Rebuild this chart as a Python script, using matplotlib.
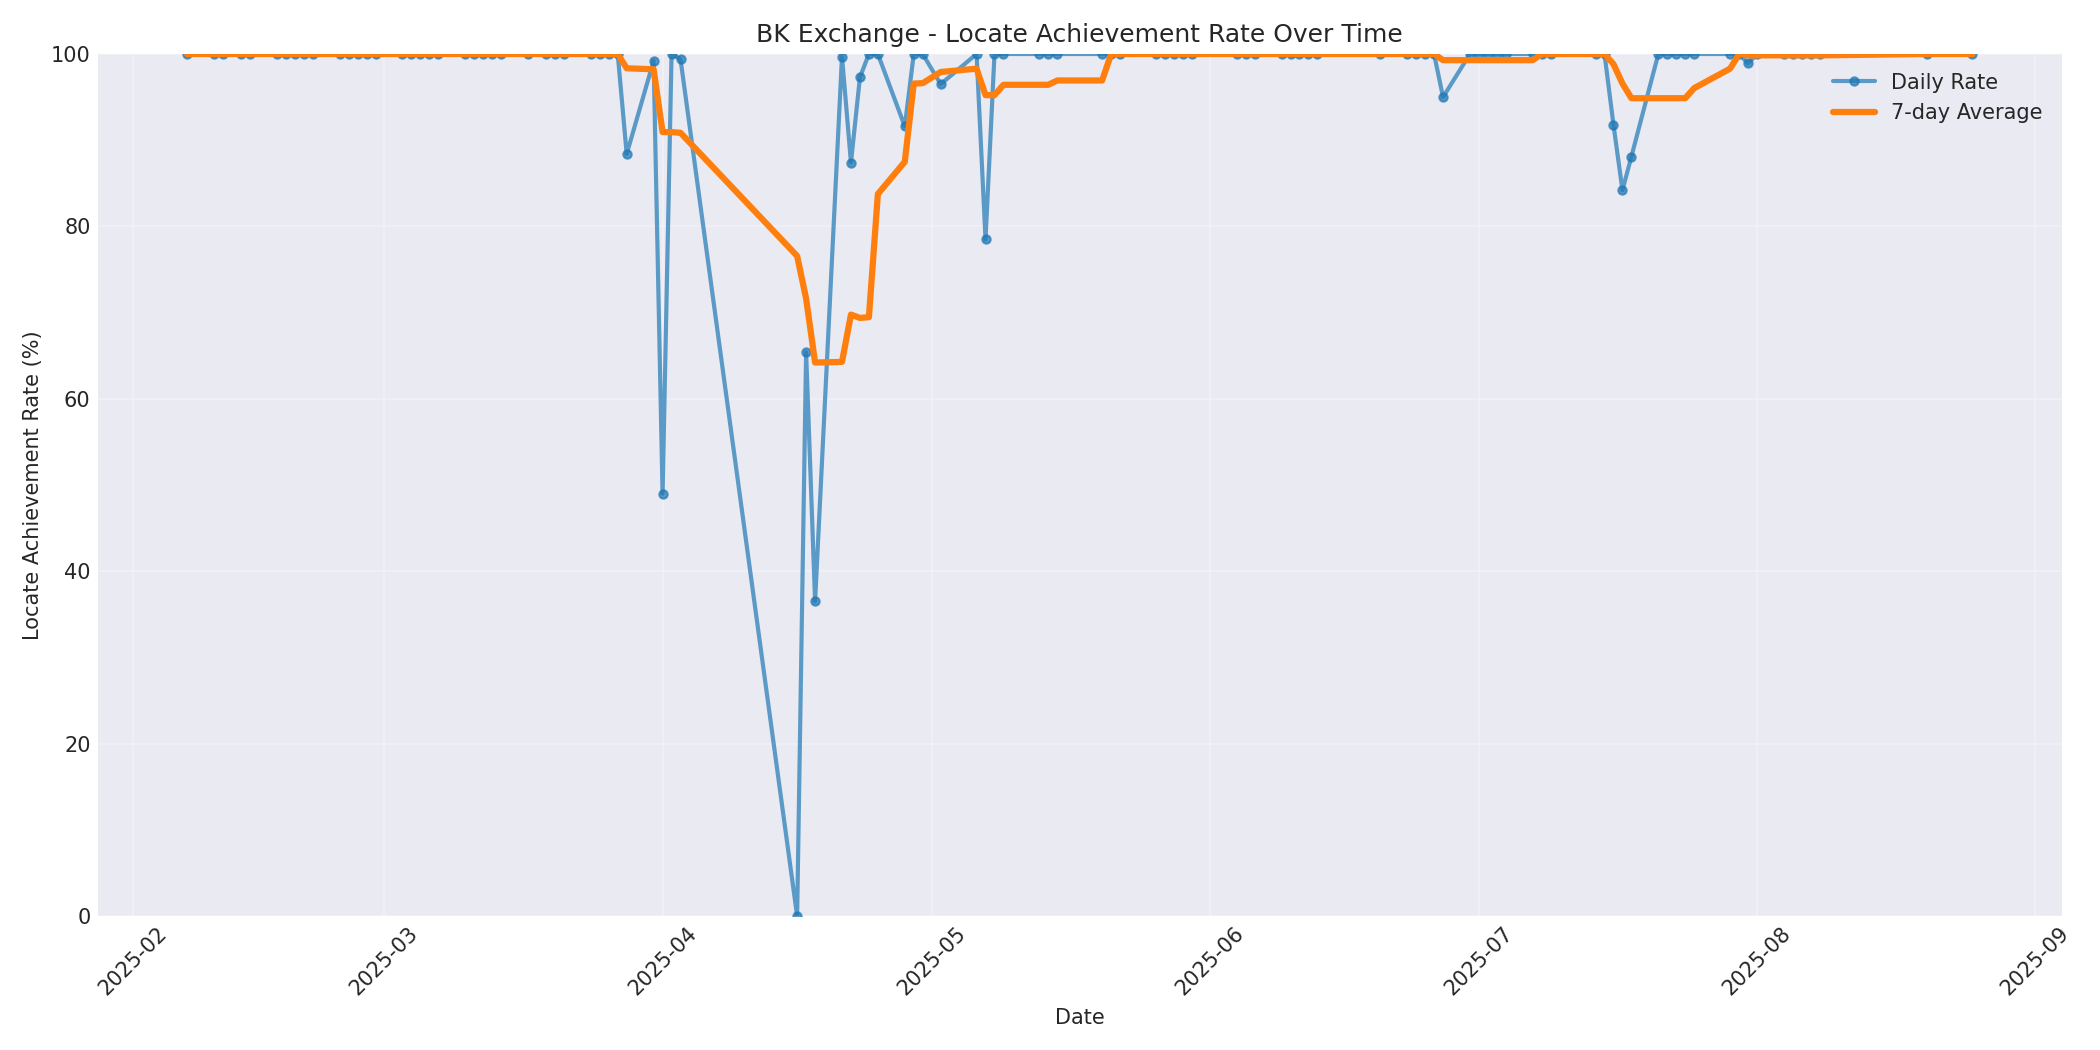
import matplotlib
matplotlib.use("Agg")
import matplotlib.pyplot as plt
import matplotlib.dates as mdates
import pandas as pd

dates = [
    "2025-02-07", "2025-02-10", "2025-02-11", "2025-02-13", "2025-02-14",
    "2025-02-17", "2025-02-18", "2025-02-19", "2025-02-20", "2025-02-21",
    "2025-02-24", "2025-02-25", "2025-02-26", "2025-02-27", "2025-02-28",
    "2025-03-03", "2025-03-04", "2025-03-05", "2025-03-06", "2025-03-07",
    "2025-03-10", "2025-03-11", "2025-03-12", "2025-03-13", "2025-03-14",
    "2025-03-17", "2025-03-19", "2025-03-20", "2025-03-21",
    "2025-03-24", "2025-03-25", "2025-03-26", "2025-03-27", "2025-03-28",
    "2025-03-31", "2025-04-01", "2025-04-02", "2025-04-03",
    "2025-04-16", "2025-04-17", "2025-04-18",
    "2025-04-21", "2025-04-22", "2025-04-23", "2025-04-24", "2025-04-25",
    "2025-04-28", "2025-04-29", "2025-04-30", "2025-05-02",
    "2025-05-06", "2025-05-07", "2025-05-08", "2025-05-09",
    "2025-05-13", "2025-05-14", "2025-05-15",
    "2025-05-20", "2025-05-21", "2025-05-22",
    "2025-05-26", "2025-05-27", "2025-05-28", "2025-05-29", "2025-05-30",
    "2025-06-04", "2025-06-05", "2025-06-06",
    "2025-06-09", "2025-06-10", "2025-06-11", "2025-06-12", "2025-06-13",
    "2025-06-20",
    "2025-06-23", "2025-06-24", "2025-06-25", "2025-06-26", "2025-06-27",
    "2025-06-30", "2025-07-01", "2025-07-02", "2025-07-03", "2025-07-04",
    "2025-07-07", "2025-07-08", "2025-07-09",
    "2025-07-14", "2025-07-15", "2025-07-16", "2025-07-17", "2025-07-18",
    "2025-07-21", "2025-07-22", "2025-07-23", "2025-07-24", "2025-07-25",
    "2025-07-29", "2025-07-30", "2025-07-31", "2025-08-01",
    "2025-08-04", "2025-08-05", "2025-08-06", "2025-08-07", "2025-08-08",
    "2025-08-20", "2025-08-25",
]

daily_rate = [
    100, 100, 100, 100, 100,
    100, 100, 100, 100, 100,
    100, 100, 100, 100, 100,
    100, 100, 100, 100, 100,
    100, 100, 100, 100, 100,
    100, 100, 100, 100,
    100, 100, 100, 100, 88.4,
    99.2, 49.0, 100, 99.4,
    0.0, 65.4, 36.5,
    99.7, 87.4, 97.3, 100, 100,
    91.6, 100, 100, 96.5,
    100, 78.5, 100, 100,
    100, 100, 100,
    100, 100, 100,
    100, 100, 100, 100, 100,
    100, 100, 100,
    100, 100, 100, 100, 100,
    100,
    100, 100, 100, 100, 95.0,
    100, 100, 100, 100, 100,
    100, 100, 100,
    100, 100, 91.8, 84.2, 88.1,
    100, 100, 100, 100, 100,
    100, 100, 98.9, 100,
    100, 100, 100, 100, 100,
    100, 100,
]

title = "BK Exchange - Locate Achievement Rate Over Time"
x_label = "Date"
y_label = "Locate Achievement Rate (%)"

s = pd.Series(daily_rate, index=pd.to_datetime(dates))
avg7 = s.rolling(window=7, min_periods=1).mean()

plt.style.use("seaborn-v0_8-darkgrid")
plt.rcParams["font.family"] = ["DejaVu Sans"]
fig, ax = plt.subplots(figsize=(14, 7), dpi=150)

ax.plot(s.index, s.values, marker="o", markersize=4, linewidth=2,
        alpha=0.7, color="#1f77b4", label="Daily Rate")
ax.plot(avg7.index, avg7.values, linewidth=3, color="#ff7f0e",
        label="7-day Average")

ax.set_title(title, fontsize=12)
ax.set_xlabel(x_label)
ax.set_ylabel(y_label)
ax.set_ylim(0, 100)
ax.grid(True, alpha=0.3)
ax.legend(loc="upper right")
ax.xaxis.set_major_locator(mdates.MonthLocator())
ax.xaxis.set_major_formatter(mdates.DateFormatter("%Y-%m"))
plt.setp(ax.get_xticklabels(), rotation=45)

fig.tight_layout()
fig.savefig("out.png", dpi=150)
